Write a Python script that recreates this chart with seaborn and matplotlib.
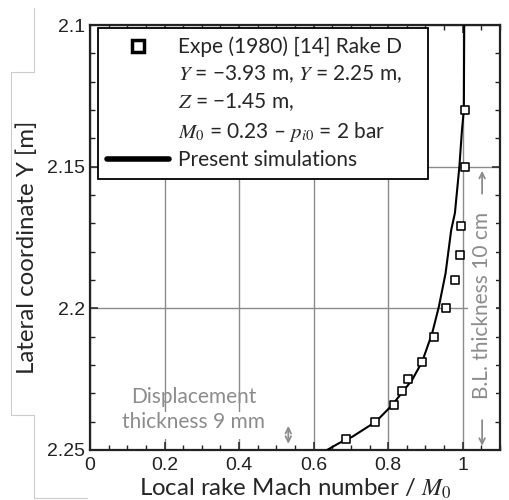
import matplotlib
matplotlib.use("Agg")
import matplotlib.pyplot as plt
import seaborn as sns
import pandas as pd
from matplotlib.lines import Line2D
from matplotlib.patches import Rectangle
from matplotlib.ticker import FixedLocator, MultipleLocator

# ---------------- data ----------------
exp_M = [1.007, 1.005, 0.9965, 0.992, 0.978, 0.955, 0.922, 0.891, 0.854, 0.838, 0.816, 0.765, 0.686]
exp_Y = [2.130, 2.150, 2.171, 2.181, 2.190, 2.200, 2.210, 2.219, 2.225, 2.229, 2.234, 2.240, 2.246]

sim_M = [0.636, 0.668, 0.704, 0.767, 0.811, 0.864, 0.891, 0.918, 0.936, 0.954, 0.969, 0.979, 0.991, 0.998, 1.003, 1.004]
sim_Y = [2.250, 2.2476, 2.2453, 2.240, 2.2341, 2.2253, 2.2189, 2.2088, 2.1994, 2.1876, 2.1724, 2.1664, 2.150, 2.137, 2.130, 2.100]

x_ticks = [0, 0.2, 0.4, 0.6, 0.8, 1.0]
x_tick_labels = ["0", "0.2", "0.4", "0.6", "0.8", "1"]
y_ticks = [2.1, 2.15, 2.2, 2.25]
y_tick_labels = ["2.1", "2.15", "2.2", "2.25"]

legend_exp_lines = [
    "Expe (1980) [14] Rake D",
    "$Y$ = \u22123.93 m, $Y$ = 2.25 m,",
    "$Z$ = \u22121.45 m,",
    "$M_0$ = 0.23 \u2013 $p_{i0}$ = 2 bar",
]
legend_sim = "Present simulations"
xlabel = "Local rake Mach number / $M_0$"
ylabel = "Lateral coordinate Y [m]"
note_disp = "Displacement\nthickness 9 mm"
note_bl = "B.L. thickness 10 cm"

exp = pd.DataFrame({"M": exp_M, "Y": exp_Y})
sim = pd.DataFrame({"M": sim_M, "Y": sim_Y})

# ---------------- style ----------------
sns.set_style("ticks")
plt.rcParams["font.family"] = ["Lato", "DejaVu Sans"]
plt.rcParams["mathtext.fontset"] = "stix"

W, H = 510, 500
fig, ax = plt.subplots(figsize=(W / 100, H / 100), dpi=100)
fig.subplots_adjust(left=90 / W, right=500 / W, bottom=1 - 450 / H, top=1 - 25 / H)

ax.set_axisbelow(True)
ax.grid(True, which="major", color="#8a8a8a", lw=1.0)

sns.lineplot(data=sim, x="M", y="Y", sort=False, estimator=None, color="black",
             lw=1.5, ax=ax, legend=False, zorder=3)
sns.scatterplot(data=exp, x="M", y="Y", marker="s", s=30, color="white",
                edgecolor="black", linewidth=1.15, ax=ax, legend=False, zorder=4)

ax.set_xlim(0, 1.1)
ax.set_ylim(2.25, 2.1)
ax.xaxis.set_major_locator(FixedLocator(x_ticks))
ax.yaxis.set_major_locator(FixedLocator(y_ticks))
ax.xaxis.set_minor_locator(MultipleLocator(0.05))
ax.yaxis.set_minor_locator(MultipleLocator(0.01))
ax.set_xticklabels(x_tick_labels, family="Liberation Sans", fontsize=14)
ax.set_yticklabels(y_tick_labels, family="Liberation Sans", fontsize=14)
ax.tick_params(which="both", direction="in", top=True, right=True, colors="#222222")
ax.tick_params(which="major", length=6, width=1.1)
ax.tick_params(which="minor", length=3.5, width=1.0)
ax.tick_params(axis="x", pad=5)
for s in ax.spines.values():
    s.set_linewidth(1.6)
    s.set_color("#222222")

ax.set_xlabel(xlabel, fontsize=17.3)
ax.set_ylabel(ylabel, fontsize=17.3)
ax.xaxis.set_label_coords(0.5, -(477 - 450) / 425)
ax.yaxis.set_label_coords((38 - 90) / 410, 1 - (247 - 25) / 425)

# white areas behind annotations
ax.add_patch(Rectangle((0.09, 2.2365), 0.44, 0.0095, facecolor="white",
                       edgecolor="none", zorder=1))
grey = "#8c8c8c"
ax.text(0.278, 2.2357, note_disp, ha="center", va="center", fontsize=15,
        color=grey, linespacing=1.3, zorder=2)
ax.text(1.052, 2.199, note_bl, ha="center", va="center", rotation=90,
        fontsize=15, color=grey, zorder=2,
        bbox=dict(boxstyle="square,pad=0.2", facecolor="white", edgecolor="none"))
ax.annotate("", xy=(1.052, 2.1505), xytext=(1.052, 2.1605),
            arrowprops=dict(arrowstyle="->", color=grey, lw=1.3))
ax.annotate("", xy=(1.052, 2.2495), xytext=(1.052, 2.2385),
            arrowprops=dict(arrowstyle="->", color=grey, lw=1.3))
ax.annotate("", xy=(0.532, 2.2415), xytext=(0.532, 2.2478),
            arrowprops=dict(arrowstyle="<->", color=grey, lw=1.3,
                            shrinkA=0, shrinkB=0))

# legend
h_exp = Line2D([], [], marker="s", ls="none", mfc="white", mec="black", ms=8, mew=2.5)
blank = Line2D([], [], ls="none")
h_sim = Line2D([], [], color="black", lw=4)
leg_w = (428 - 98) / 410
leg = ax.legend(handles=[h_exp, blank, blank, blank, h_sim],
                labels=legend_exp_lines + [legend_sim],
                loc="upper left", bbox_to_anchor=(8 / 410, 1 - 3 / 425 - 0.5, leg_w, 0.5),
                mode="expand", borderaxespad=0, fancybox=False, framealpha=1,
                edgecolor="black", fontsize=15, handlelength=3.0, handletextpad=0.43,
                labelspacing=0.3, borderpad=0.42)
leg.get_frame().set_linewidth(1.3)
leg.set_zorder(5)

# faint outline of the pasted image (decoration)
px = [34, 34, 11, 11, 34, 34, 87]
py = [8, 72, 72, 415, 415, 498, 498]
fig.add_artist(Line2D([x / W for x in px], [1 - y / H for y in py],
                      transform=fig.transFigure, color="#cccccc", lw=0.8))

fig.savefig("out.png", dpi=100)
